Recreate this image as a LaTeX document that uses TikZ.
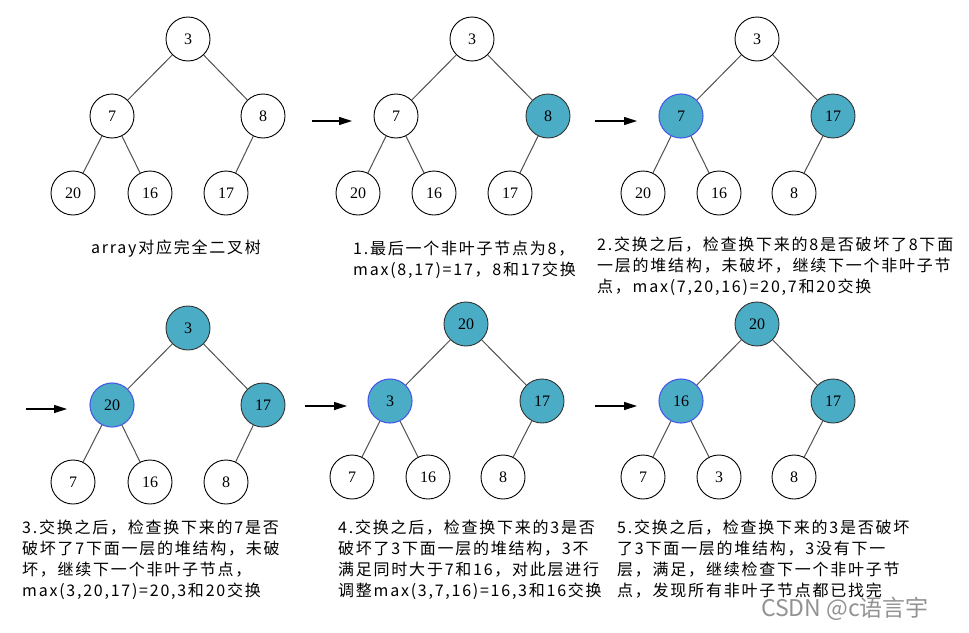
\documentclass[tikz,border=0pt]{standalone}
\usepackage{fontspec}
\setmainfont{Liberation Serif}
\newfontfamily\cjk[LetterSpace=11]{Noto Sans CJK SC}
\newfontfamily\wmfont{Noto Sans CJK SC}
\usetikzlibrary{arrows.meta}
\definecolor{heapfill}{RGB}{75,172,198}
\definecolor{heapblue}{RGB}{70,90,230}
\definecolor{edgegray}{RGB}{80,80,80}
\begin{document}
\begin{tikzpicture}[x=1pt,y=-1pt,
  nd/.style={circle,draw=black,line width=0.9pt,fill=white,minimum size=44pt,inner sep=0pt,font=\fontsize{16}{16}\selectfont},
  hl/.style={nd,fill=heapfill,draw=black!80},
  hlb/.style={nd,fill=heapfill,draw=heapblue,line width=1.1pt},
  edge/.style={draw=edgegray,line width=1pt},
  flow/.style={draw=black,line width=1.1pt,-{Triangle[length=13pt,width=8pt]}},
  capt/.style={anchor=north west,inner sep=0pt,align=left,font=\cjk\fontsize{16}{21}\selectfont}]
\useasboundingbox (0,0) rectangle (969,632);
\fill[white] (0,0) rectangle (969,632);
\begin{scope}
\clip (0,0) rectangle (969,632);
% panel 0
\begin{scope}[shift={(188,39)}]
\node[nd] (a0) at (0,0) {3};
\node[nd] (a1) at (-76,77) {7};
\node[nd] (a2) at (75,77) {8};
\node[nd] (a3) at (-115,154) {20};
\node[nd] (a4) at (-38,154) {16};
\node[nd] (a5) at (38,154) {17};
\end{scope}
\draw[edge] (a0)--(a1) (a0)--(a2) (a1)--(a3) (a1)--(a4) (a2)--(a5);
\node[font=\cjk\fontsize{16}{21}\selectfont] (c0) at (176,249) {array对应完全二叉树};
% panel 1
\begin{scope}[shift={(472,39)}]
\node[nd] (b0) at (0,0) {3};
\node[nd] (b1) at (-76,77) {7};
\node[hl] (b2) at (76,77) {8};
\node[nd] (b3) at (-114,154) {20};
\node[nd] (b4) at (-38,154) {16};
\node[nd] (b5) at (38,154) {17};
\end{scope}
\draw[edge] (b0)--(b1) (b0)--(b2) (b1)--(b3) (b1)--(b4) (b2)--(b5);
\node[capt] (c1) at (353,241) {1.最后一个非叶子节点为8，\\max(8,17)=17，8和17交换};
% panel 2
\begin{scope}[shift={(757,39)}]
\node[nd] (d0) at (0,0) {3};
\node[hlb] (d1) at (-76,77) {7};
\node[hl] (d2) at (76,77) {17};
\node[nd] (d3) at (-114,154) {20};
\node[nd] (d4) at (-38,154) {16};
\node[nd] (d5) at (37,154) {8};
\end{scope}
\draw[edge] (d0)--(d1) (d0)--(d2) (d1)--(d3) (d1)--(d4) (d2)--(d5);
\node[capt] (c2) at (597,237) {2.交换之后，检查换下来的8是否破坏了8下面\\一层的堆结构，未破坏，继续下一个非叶子节\\点，max(7,20,16)=20,7和20交换};
% panel 3
\begin{scope}[shift={(188,328)}]
\node[hl] (e0) at (0,0) {3};
\node[hlb] (e1) at (-76,77) {20};
\node[hl] (e2) at (75,77) {17};
\node[nd] (e3) at (-115,154) {7};
\node[nd] (e4) at (-38,154) {16};
\node[nd] (e5) at (38,154) {8};
\end{scope}
\draw[edge] (e0)--(e1) (e0)--(e2) (e1)--(e3) (e1)--(e4) (e2)--(e5);
\node[capt] (c3) at (22,520) {3.交换之后，检查换下来的7是否\\破坏了7下面一层的堆结构，未破\\坏，继续下一个非叶子节点，\\max(3,20,17)=20,3和20交换};
% panel 4
\begin{scope}[shift={(466,324)}]
\node[hl] (f0) at (0,0) {20};
\node[hlb] (f1) at (-76,77) {3};
\node[hl] (f2) at (76,77) {17};
\node[nd] (f3) at (-114,153) {7};
\node[nd] (f4) at (-38,153) {16};
\node[nd] (f5) at (37,153) {8};
\end{scope}
\draw[edge] (f0)--(f1) (f0)--(f2) (f1)--(f3) (f1)--(f4) (f2)--(f5);
\node[capt] (c4) at (338,520) {4.交换之后，检查换下来的3是否\\破坏了3下面一层的堆结构，3不\\满足同时大于7和16，对此层进行\\调整max(3,7,16)=16,3和16交换};
% panel 5
\begin{scope}[shift={(757,324)}]
\node[hl] (g0) at (0,0) {20};
\node[hlb] (g1) at (-76,77) {16};
\node[hl] (g2) at (76,77) {17};
\node[nd] (g3) at (-114,153) {7};
\node[nd] (g4) at (-38,153) {3};
\node[nd] (g5) at (37,153) {8};
\end{scope}
\draw[edge] (g0)--(g1) (g0)--(g2) (g1)--(g3) (g1)--(g4) (g2)--(g5);
\node[capt] (c5) at (617,520) {5.交换之后，检查换下来的3是否破坏\\了3下面一层的堆结构，3没有下一\\层，满足，继续检查下一个非叶子节\\点，发现所有非叶子节点都已找完};
% arrows
\coordinate (p1s) at (312,121); \coordinate (p1e) at (352,121);
\coordinate (p2s) at (595,121); \coordinate (p2e) at (637,121);
\coordinate (p3s) at (26,409);  \coordinate (p3e) at (67,409);
\coordinate (p4s) at (305,406); \coordinate (p4e) at (347,406);
\coordinate (p5s) at (595,406); \coordinate (p5e) at (637,406);
\draw[flow] (p1s)--(p1e);
\draw[flow] (p2s)--(p2e);
\draw[flow] (p3s)--(p3e);
\draw[flow] (p4s)--(p4e);
\draw[flow] (p5s)--(p5e);
% watermark
\node[font=\wmfont\fontsize{23}{23}\selectfont,text=black!50,opacity=0.85] (wm) at (845,609) {CSDN @c语言宇};
\end{scope}
\end{tikzpicture}
\end{document}
